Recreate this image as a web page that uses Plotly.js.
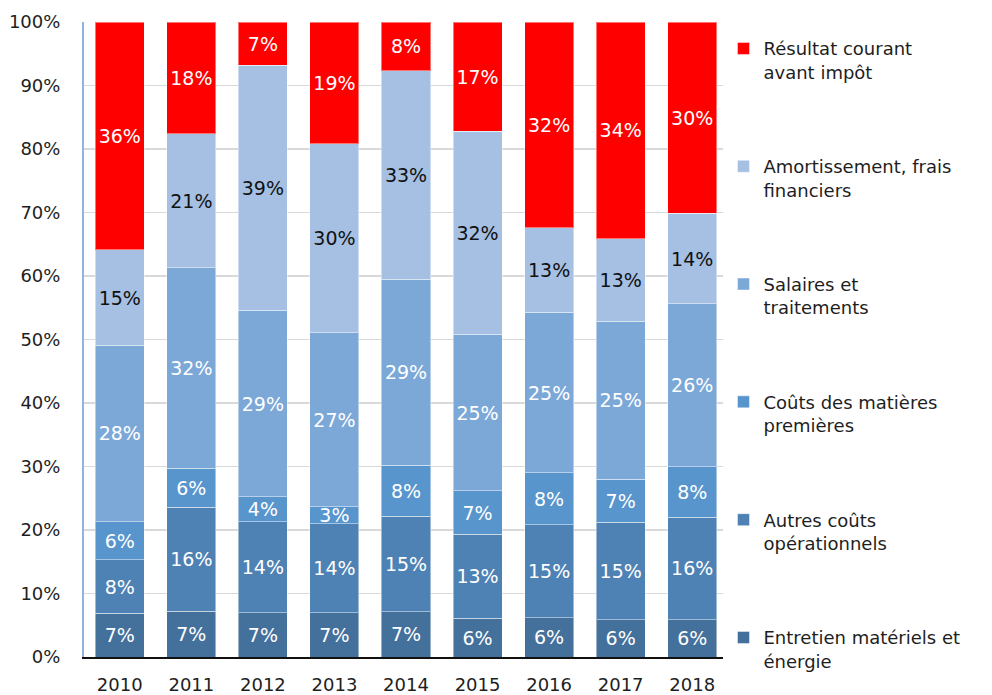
<!DOCTYPE html>
<html>
<head>
<meta charset="utf-8">
<script src="https://cdn.plot.ly/plotly-3.0.1.min.js"></script>
<style>html,body{margin:0;padding:0;background:#fff;}#chart{width:992px;height:695px;}</style>
</head>
<body>
<div id="chart"></div>
<script>
const years = ["2010","2011","2012","2013","2014","2015","2016","2017","2018"];
const entretien = [6.9, 7.2, 7.0, 7.0, 7.1, 6.1, 6.2, 5.9, 5.9];
const autres    = [8.4, 16.4, 14.3, 14.0, 15.1, 13.2, 14.6, 15.3, 16.1];
const matieres  = [6.0, 6.1, 3.9, 2.7, 8.0, 6.9, 8.2, 6.8, 8.0];
const salaires  = [27.8, 31.6, 29.4, 27.4, 29.3, 24.6, 25.3, 24.9, 25.6];
const amort     = [15.0, 21.1, 38.6, 29.7, 32.8, 32.0, 13.3, 13.0, 14.3];
const resultat  = [35.9, 17.6, 6.8, 19.2, 7.7, 17.2, 32.4, 34.1, 30.1];

const seriesNames = ["Entretien matériels et<br>énergie","Autres coûts<br>opérationnels","Coûts des matières<br>premières","Salaires et<br>traitements","Amortissement, frais<br>financiers","Résultat courant<br>avant impôt"];
const seriesData = [entretien, autres, matieres, salaires, amort, resultat];
const colors = ["#44709c","#4e82b4","#5895cd","#7ca8d8","#a5c0e3","#ff0000"];
const textColors = ["#ffffff","#ffffff","#ffffff","#ffffff","#111111","#ffffff"];

const font = "DejaVu Sans, sans-serif";
const traces = seriesData.map((d,i)=>({
  type:"bar", x:years, y:d, name:seriesNames[i],
  legendgroup:"g"+i, legendrank: 100 - i,
  marker:{color:colors[i], line:{color:"rgba(255,255,255,0.45)", width:1}},
  texttemplate:"%{y:.0f}%", textposition:"inside", insidetextanchor:"middle",
  textangle:0, constraintext:"none",
  textfont:{family:font, size:19, color:textColors[i]},
  hoverinfo:"skip"
}));

const layout = {
  width:992, height:695,
  margin:{l:84, r:264, t:22, b:38},
  barmode:"stack", bargap:0.315,
  paper_bgcolor:"#fff", plot_bgcolor:"#fff",
  font:{family:font, size:18, color:"#1e1e1e"},
  xaxis:{
    showline:true, linecolor:"#111", linewidth:2, ticks:"",
    tickfont:{family:font, size:18, color:"#1e1e1e"},
    showgrid:false, fixedrange:true, ticklabelstandoff:10
  },
  yaxis:{
    range:[0,100], dtick:10, ticksuffix:"%",
    showgrid:true, gridcolor:"#d9d9d9", gridwidth:1.5,
    showline:true, linecolor:"#8fb4df", linewidth:2,
    zeroline:false, ticks:"",
    tickfont:{family:font, size:18, color:"#1e1e1e"},
    ticklabelstandoff:18
  },
  showlegend:true,
  legend:{
    x:0.993, xanchor:"left", y:0.987, yanchor:"top",
    traceorder:"grouped", tracegroupgap:68,
    font:{family:font, size:18, color:"#1e1e1e"},
    itemwidth:30, valign:"top", maxheight:690
  }
};
Plotly.newPlot("chart", traces, layout, {displayModeBar:false, staticPlot:true});
</script>
</body>
</html>
